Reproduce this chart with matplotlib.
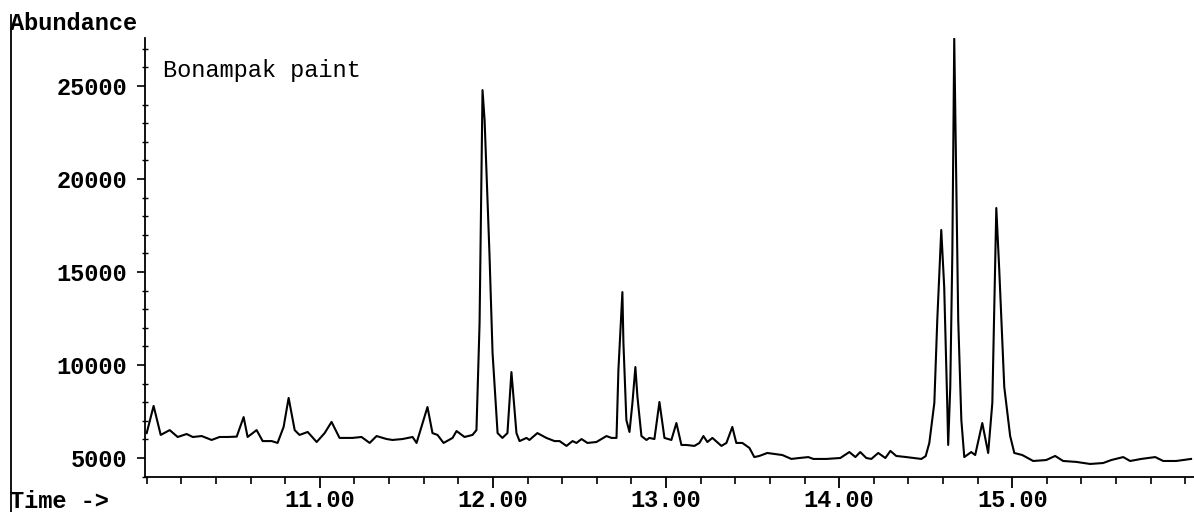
import matplotlib
matplotlib.use("Agg")
import matplotlib.pyplot as plt
from matplotlib.lines import Line2D
from matplotlib.ticker import MultipleLocator

# retention time (min) and abundance
time_min = [
    10.000, 10.040, 10.081, 10.133, 10.179, 10.231, 10.266, 10.318, 10.375, 10.421,
    10.468, 10.520, 10.560, 10.583, 10.635, 10.670, 10.722, 10.756, 10.791, 10.820,
    10.855, 10.883, 10.930, 10.982, 11.028, 11.068, 11.114, 11.155, 11.189, 11.241,
    11.288, 11.328, 11.386, 11.420, 11.478, 11.536, 11.559, 11.622, 11.651, 11.680,
    11.715, 11.767, 11.790, 11.836, 11.882, 11.905, 11.923, 11.940, 11.952, 11.980,
    11.998, 12.027, 12.055, 12.084, 12.107, 12.136, 12.154, 12.194, 12.211, 12.257,
    12.309, 12.356, 12.385, 12.425, 12.460, 12.483, 12.512, 12.546, 12.598, 12.656,
    12.685, 12.714, 12.725, 12.748, 12.754, 12.771, 12.789, 12.806, 12.823, 12.835,
    12.858, 12.887, 12.904, 12.933, 12.962, 12.991, 13.031, 13.060, 13.089, 13.118,
    13.164, 13.193, 13.216, 13.239, 13.268, 13.320, 13.349, 13.383, 13.406, 13.441,
    13.482, 13.510, 13.539, 13.585, 13.672, 13.724, 13.770, 13.822, 13.851, 13.926,
    14.007, 14.059, 14.094, 14.122, 14.157, 14.186, 14.226, 14.267, 14.296, 14.330,
    14.388, 14.475, 14.500, 14.521, 14.550, 14.567, 14.590, 14.607, 14.625, 14.630,
    14.642, 14.654, 14.665, 14.677, 14.688, 14.706, 14.723, 14.763, 14.786, 14.827,
    14.861, 14.885, 14.908, 14.925, 14.954, 14.988, 15.012, 15.058, 15.121, 15.196,
    15.248, 15.294, 15.370, 15.450, 15.525, 15.572, 15.641, 15.681, 15.745, 15.826,
    15.872, 15.947, 16.033,
]
abundance = [
    6340, 7800, 6240, 6500, 6130, 6290, 6130, 6180, 5970, 6130,
    6130, 6150, 7200, 6130, 6500, 5910, 5910, 5810, 6670, 8230,
    6500, 6240, 6400, 5860, 6340, 6940, 6080, 6080, 6080, 6130,
    5810, 6180, 6020, 5970, 6020, 6130, 5810, 7740, 6340, 6240,
    5810, 6080, 6450, 6130, 6240, 6500, 12260, 24780, 23170, 16020,
    10650, 6340, 6080, 6340, 9620, 6340, 5910, 6080, 5970, 6340,
    6080, 5910, 5910, 5650, 5910, 5810, 6020, 5810, 5860, 6180,
    6080, 6080, 9730, 13920, 11180, 7040, 6400, 7960, 9890, 8280,
    6180, 5970, 6080, 6020, 8010, 6080, 5970, 6880, 5700, 5700,
    5650, 5810, 6180, 5860, 6080, 5650, 5810, 6670, 5810, 5810,
    5540, 5050, 5110, 5270, 5160, 4950, 5000, 5050, 4950, 4950,
    5000, 5320, 5050, 5320, 5000, 4950, 5270, 5000, 5380, 5110,
    5050, 4950, 5100, 5810, 7960, 12420, 17260, 14190, 7740, 5700,
    8820, 16020, 27550, 19570, 12420, 7040, 5050, 5320, 5160, 6880,
    5270, 7960, 18440, 15110, 8820, 6180, 5270, 5160, 4840, 4890,
    5110, 4840, 4790, 4680, 4730, 4890, 5050, 4840, 4950, 5050,
    4840, 4840, 4950,
]

y_ticks = [5000, 10000, 15000, 20000, 25000]
x_ticks = [11.0, 12.0, 13.0, 14.0, 15.0]

mono = "Liberation Mono"
fs = 17

fig = plt.figure(figsize=(11.94, 5.12), dpi=100)
ax = fig.add_axes([0.1214, 0.0684, 0.8786, 0.8574])

ax.plot(time_min, abundance, color="black", lw=1.5, solid_joinstyle="round")

ax.set_xlim(9.99, 16.05)
ax.set_ylim(3980, 27580)

for s in ("top", "right"):
    ax.spines[s].set_visible(False)
for s in ("left", "bottom"):
    ax.spines[s].set_linewidth(1.3)

ax.set_xticks(x_ticks)
ax.set_xticklabels([f"{v:.2f}" for v in x_ticks])
ax.xaxis.set_minor_locator(MultipleLocator(0.2))
ax.set_yticks(y_ticks)
ax.set_yticklabels([str(v) for v in y_ticks])
ax.yaxis.set_minor_locator(MultipleLocator(1000))

ax.tick_params(axis="x", which="major", direction="out", length=8, width=1.3, pad=1)
ax.tick_params(axis="x", which="minor", direction="out", length=5, width=1.2)
ax.tick_params(axis="y", which="major", direction="out", length=6, width=1.2, pad=7)
ax.tick_params(axis="y", which="minor", direction="inout", length=4, width=1.0)

for lab in ax.get_xticklabels() + ax.get_yticklabels():
    lab.set_fontfamily(mono)
    lab.set_fontweight("bold")
    lab.set_fontsize(fs)

ax.text(0.017, 0.91, "Bonampak paint", transform=ax.transAxes,
        fontfamily=mono, fontsize=fs, ha="left", va="baseline")

fig.text(0.008, 0.942, "Abundance", fontfamily=mono, fontweight="bold",
         fontsize=fs, ha="left", va="baseline")
fig.text(0.008, 0.008, "Time ->", fontfamily=mono, fontweight="bold",
         fontsize=fs, ha="left", va="baseline")

# outer frame line on the far left
fig.add_artist(Line2D([0.0095, 0.0095], [0.0, 0.97], color="black", lw=1.3,
                      transform=fig.transFigure))

fig.savefig("out.png", dpi=100)
